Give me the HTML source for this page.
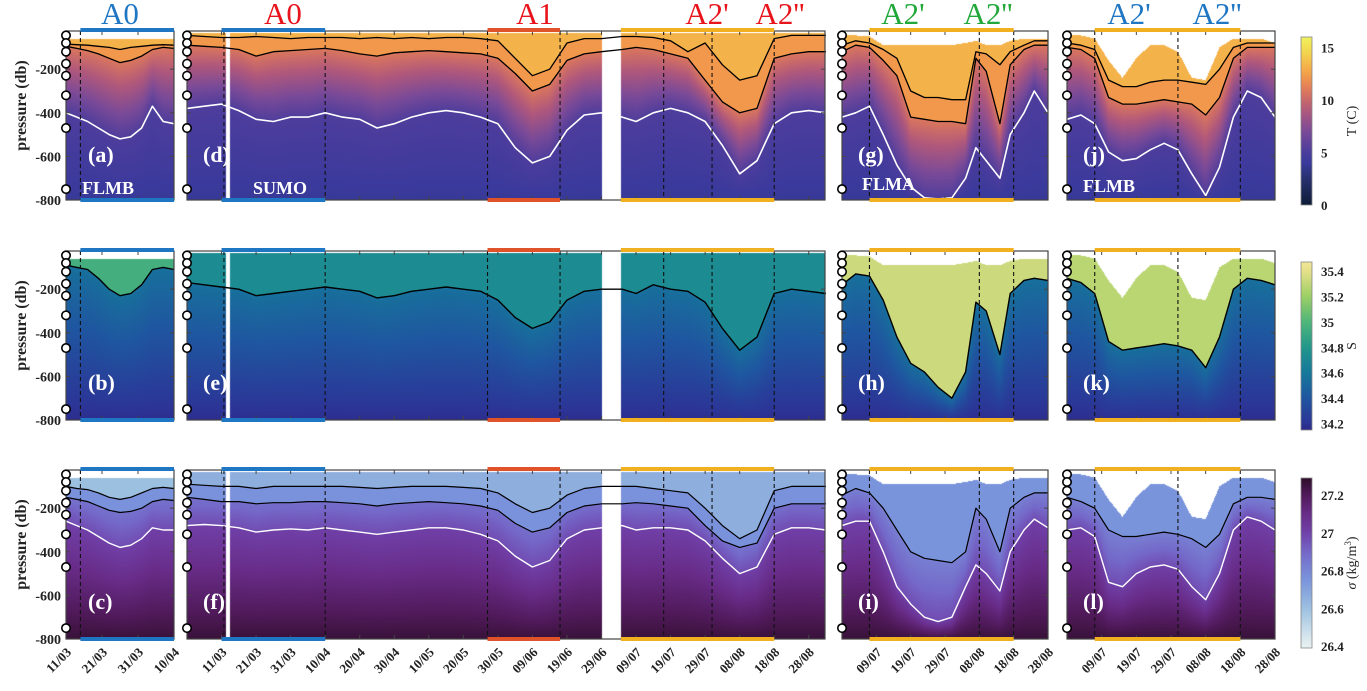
<!DOCTYPE html>
<html><head><meta charset="utf-8">
<style>
html,body{margin:0;padding:0;background:#fff;}
#wrap{position:relative;width:1367px;height:691px;overflow:hidden;font-family:"Liberation Serif",serif;}
canvas{position:absolute;}
svg{position:absolute;left:0;top:0;}
</style></head>
<body>
<div id="wrap">
<svg id="svg" width="1367" height="691"></svg>
</div>
<script>
// ---------- data (day of year; pressure in db) ----------
const ticksA = [70,80,90,100];
const tickLabelsA = ["11/03","21/03","31/03","10/04"];
const ticksD = [70,80,90,100,110,120,130,140,150,160,170,180,190,200,210,220,230,240];
const tickLabelsD = ["11/03","21/03","31/03","10/04","20/04","30/04","10/05","20/05","30/05","09/06","19/06","29/06","09/07","19/07","29/07","08/08","18/08","28/08"];
const ticksG = [190,200,210,220,230,240];
const tickLabelsG = ["09/07","19/07","29/07","08/08","18/08","28/08"];
const yTicks = [-200,-400,-600,-800];
const instrDepths = [-45,-80,-120,-175,-230,-320,-470,-750];

const daysA = [70,73,76,79,82,85,88,91,94,97,100];
const tA1 = [-85,-88,-90,-95,-100,-110,-100,-95,-90,-88,-90];
const tA2 = [-95,-105,-115,-130,-150,-170,-160,-140,-110,-100,-105];
const tAw = [-400,-420,-440,-470,-500,-520,-510,-470,-370,-440,-450];
const sA = [-90,-100,-110,-150,-200,-230,-220,-180,-110,-100,-110];
const gA1 = [-100,-110,-115,-130,-150,-160,-150,-130,-110,-105,-110];
const gA2 = [-150,-160,-170,-190,-210,-220,-215,-200,-170,-160,-165];
const gAw = [-260,-280,-300,-330,-360,-380,-370,-340,-290,-300,-300];

const daysD = [60,65,70,75,80,85,90,95,100,105,110,115,120,125,130,135,140,145,150,155,160,165,170,175,180,186,190,195,200,205,210,215,220,225,230,235,240,245];
const tD1 = [-45,-50,-55,-55,-50,-55,-60,-55,-55,-55,-60,-55,-60,-55,-60,-55,-55,-60,-70,-150,-230,-200,-80,-60,-60,-50,-50,-55,-70,-120,-80,-180,-250,-230,-60,-45,-45,-45];
const tD2 = [-90,-95,-100,-110,-140,-120,-115,-110,-105,-115,-130,-140,-125,-120,-115,-120,-125,-130,-150,-220,-300,-270,-160,-130,-120,-110,-100,-110,-130,-150,-250,-350,-400,-380,-150,-130,-120,-120];
const tDw = [-380,-370,-360,-390,-430,-440,-420,-420,-400,-420,-430,-470,-450,-420,-400,-390,-400,-420,-450,-560,-630,-600,-480,-410,-400,-420,-440,-400,-380,-400,-440,-550,-680,-620,-450,-400,-390,-400];
const sD = [-170,-180,-190,-200,-230,-220,-210,-200,-190,-200,-210,-240,-230,-210,-200,-190,-200,-210,-250,-330,-380,-350,-250,-210,-200,-200,-220,-180,-200,-210,-260,-380,-480,-420,-220,-200,-210,-220];
const gD1 = [-90,-95,-100,-100,-110,-100,-100,-100,-100,-100,-105,-110,-105,-100,-100,-100,-105,-110,-130,-180,-220,-200,-140,-110,-100,-100,-100,-110,-120,-130,-200,-280,-340,-300,-120,-100,-100,-100];
const gD2 = [-150,-160,-170,-170,-180,-175,-175,-170,-170,-175,-180,-190,-180,-175,-170,-175,-180,-190,-210,-270,-310,-290,-220,-190,-180,-180,-175,-180,-190,-200,-280,-350,-380,-360,-200,-180,-180,-180];
const gDw = [-280,-275,-280,-290,-310,-300,-295,-300,-290,-300,-310,-320,-310,-300,-290,-290,-300,-320,-350,-420,-470,-440,-340,-300,-290,-280,-300,-290,-290,-300,-350,-430,-500,-470,-320,-290,-290,-300];

const daysG = [180,184,188,192,196,200,204,208,212,216,219,222,226,229,233,236,240];
const tG1 = [-90,-70,-80,-110,-150,-300,-330,-330,-340,-340,-120,-130,-180,-120,-90,-70,-70];
const tG2 = [-120,-90,-100,-160,-230,-420,-430,-440,-440,-450,-150,-210,-450,-180,-110,-90,-90];
const tGw = [-420,-400,-370,-500,-640,-740,-790,-795,-790,-700,-560,-620,-700,-500,-400,-300,-400];
const topG = [-45,-45,-50,-90,-90,-90,-90,-90,-90,-80,-70,-90,-90,-70,-60,-60,-60];
const sG = [-180,-130,-140,-250,-420,-540,-580,-650,-700,-580,-260,-300,-500,-220,-160,-150,-160];
const gG1 = [-140,-110,-130,-200,-300,-400,-430,-440,-450,-400,-200,-250,-400,-200,-150,-130,-130];
const gGw = [-280,-260,-260,-400,-560,-640,-700,-720,-700,-560,-460,-500,-580,-400,-300,-250,-290];

const daysJ = [180,184,188,192,196,200,204,208,212,216,220,224,228,232,236,240];
const tJ1 = [-80,-90,-110,-250,-280,-280,-260,-250,-250,-260,-270,-200,-100,-80,-80,-80];
const tJ2 = [-100,-110,-150,-330,-360,-360,-350,-340,-350,-360,-410,-330,-150,-100,-100,-100];
const tJw = [-430,-410,-450,-580,-620,-610,-570,-540,-570,-680,-780,-650,-420,-300,-330,-420];
const topJ = [-40,-45,-60,-160,-240,-150,-90,-90,-120,-240,-250,-100,-60,-60,-60,-80];
const sJ = [-150,-170,-220,-440,-480,-470,-460,-450,-460,-480,-560,-420,-200,-150,-160,-180];
const gJ1 = [-150,-170,-200,-300,-330,-330,-320,-310,-320,-340,-380,-320,-180,-150,-150,-160];
const gJw = [-300,-290,-330,-540,-560,-500,-470,-460,-480,-560,-620,-500,-300,-240,-260,-300];

const tCbTicks = [0,5,10,15];
const sCbTicks = [34.2,34.4,34.6,34.8,35,35.2,35.4];
const gCbTicks = [26.4,26.6,26.8,27,27.2];

// ---------- layout ----------
const ROWS=[31,251,470], PH=169, P0=-25, P1=-800;
function yOf(row,p){return ROWS[row]+(P0-p)/(P0-P1)*PH;}
const SEC={
 a:{x0:66,x1:174,d0:70,d1:100,days:daysA,T:[tA1,tA2,tAw],S:sA,G:[gA1,gA2,gAw],top:null,topC:-62,sTop:34.95,gTop:26.6,names:["a","b","c"],ticks:ticksA,labels:tickLabelsA,dash:[74]},
 d:{x0:187,x1:825,d0:60,d1:244.7,days:daysD,T:[tD1,tD2,tDw],S:sD,G:[gD1,gD2,gDw],top:null,topC:-33,sTop:34.72,gTop:26.66,names:["d","e","f"],ticks:ticksD,labels:tickLabelsD,dash:[70.7,100,147,168,198,212,230]},
 g:{x0:842,x1:1048,d0:180,d1:240,days:daysG,T:[tG1,tG2,tGw],S:sG,G:[gG1,gG1,gGw],top:topG,sTop:35.33,gTop:26.75,names:["g","h","i"],ticks:ticksG,labels:tickLabelsG,dash:[188,220,230]},
 j:{x0:1067,x1:1275,d0:180,d1:240,days:daysJ,T:[tJ1,tJ2,tJw],S:sJ,G:[gJ1,gJ1,gJw],top:topJ,sTop:35.28,gTop:26.75,names:["j","k","l"],ticks:ticksG,labels:tickLabelsG,dash:[188,212,230]}
};
function xOf(s,day){return s.x0+(day-s.d0)/(s.d1-s.d0)*(s.x1-s.x0);}
function interp(days,arr,d){
 if(d<=days[0])return arr[0]; if(d>=days[days.length-1])return arr[arr.length-1];
 for(let i=0;i<days.length-1;i++){if(d>=days[i]&&d<=days[i+1]){const t=(d-days[i])/(days[i+1]-days[i]);return arr[i]+t*(arr[i+1]-arr[i]);}}
 return arr[0];
}
function hex(h){return [parseInt(h.substr(1,2),16),parseInt(h.substr(3,2),16),parseInt(h.substr(5,2),16)];}
const TMAP=[[0,'#0d1c38'],[2.5,'#28306e'],[4,'#3a3a9c'],[5,'#4a3c9c'],[7,'#7a4a98'],[9,'#b0587c'],[11,'#e07a5a'],[12.5,'#f5a048'],[15,'#f2e050'],[16,'#f0f060']].map(s=>[s[0],hex(s[1])]);
const SMAP=[[34.1,'#2b1f7a'],[34.2,'#2c3496'],[34.4,'#1f56a0'],[34.6,'#15789a'],[34.8,'#22978c'],[35.0,'#4fb67a'],[35.2,'#9ccf64'],[35.4,'#e6e08a'],[35.5,'#f6ec9a']].map(s=>[s[0],hex(s[1])]);
const GMAP=[[26.4,'#e8f2f2'],[26.6,'#9cc0e0'],[26.75,'#7a94dc'],[26.9,'#7468c8'],[27.0,'#7040a8'],[27.1,'#682c88'],[27.2,'#501a5a'],[27.3,'#2a0c24']].map(s=>[s[0],hex(s[1])]);
function cmap(m,v){
 if(v<=m[0][0])return m[0][1]; if(v>=m[m.length-1][0])return m[m.length-1][1];
 for(let i=0;i<m.length-1;i++){if(v>=m[i][0]&&v<=m[i+1][0]){const t=(v-m[i][0])/(m[i+1][0]-m[i][0]);return [0,1,2].map(k=>m[i][1][k]+t*(m[i+1][1][k]-m[i][1][k]));}}
}
function cssOf(m,v){const c=cmap(m,v);return 'rgb('+c.map(Math.round).join(',')+')';}
function tempVal(p,l1,l2,w){
 if(p>l1)return 13.2; if(p>l2)return 12.2;
 if(p>w)return 10.8-5.6*(l2-p)/Math.max(1,(l2-w));
 return 5.2-1.4*(w-p)/Math.max(1,(w+800));
}
function salVal(p,l){
 return 34.55-0.38*(l-p)/Math.max(1,(l+800));
}
function sigVal(p,l1,l2,w,gTop){
 if(p>l1)return gTop; if(p>l2)return 26.76;
 if(p>w)return 26.82+0.15*(l1-p)/Math.max(1,(l1-w));
 return 27.0+0.26*(w-p)/Math.max(1,(w+800));
}
const wrap=document.getElementById('wrap');
const svg=document.getElementById('svg');
const NS='http://www.w3.org/2000/svg';
function mk(tag,attrs,parent){const e=document.createElementNS(NS,tag);for(const k in attrs)e.setAttribute(k,attrs[k]);(parent||svg).appendChild(e);return e;}

// ---------- heatmaps ----------
for(const key in SEC){
 const s=SEC[key];
 const W=s.x1-s.x0;
 for(let row=0;row<3;row++){
  const cv=document.createElement('canvas');
  cv.width=W;cv.height=PH;
  cv.style.left=s.x0+'px';cv.style.top=ROWS[row]+'px';
  
  
  wrap.insertBefore(cv,svg);
  const ctx=cv.getContext('2d');const img=ctx.createImageData(W,PH);
  for(let px=0;px<W;px++){
   const day=s.d0+(px+0.5)/W*(s.d1-s.d0);
   const gap=(key==='d'&&((day>=180&&day<=185.6)||(day>=71.2&&day<=72.4)));
   const top=s.top?interp(s.days,s.top,day):s.topC;
   const a1=interp(s.days,s.T[0],day),a2=interp(s.days,s.T[1],day),aw=interp(s.days,s.T[2],day);
   const sl=interp(s.days,s.S,day);
   const g1=interp(s.days,s.G[0],day),g2=interp(s.days,s.G[1],day),gw=interp(s.days,s.G[2],day);
   for(let py=0;py<PH;py++){
    const p=P0-(py+0.5)/PH*(P0-P1);
    let c;
    if(gap||p>top)c=[255,255,255];
    else if(row===0)c=cmap(TMAP,tempVal(p,a1,a2,aw));
    else if(row===1)c=cmap(SMAP,p>sl?s.sTop:salVal(p,sl));
    else c=cmap(GMAP,sigVal(p,g1,g2,gw,s.gTop));
    const i=(py*W+px)*4;img.data[i]=c[0];img.data[i+1]=c[1];img.data[i+2]=c[2];img.data[i+3]=255;
   }
  }
  ctx.putImageData(img,0,0);
 }
}

// ---------- lines, axes ----------
function poly(s,row,arr,color,w,name){
 const pts=[];
 s.days.forEach((d,i)=>{pts.push(xOf(s,d).toFixed(1)+','+yOf(row,arr[i]).toFixed(1));});
 const e=mk('polyline',{points:pts.join(' '),fill:'none',stroke:color,'stroke-width':w,'stroke-linejoin':'round'});
 
 
}
const barCol={a:[[74,100,'#1f77c4']],d:[[70,100,'#1f77c4'],[147,168,'#e0522a'],[185.6,230,'#f0b020']],g:[[188,230,'#f0b020']],j:[[188,230,'#f0b020']]};
for(const key in SEC){
 const s=SEC[key];
 for(let row=0;row<3;row++){
  const yt=ROWS[row],yb=ROWS[row]+PH;
  if(row===0){poly(s,0,s.T[0],'#000',1.3,'isotherm-upper-'+key);poly(s,0,s.T[1],'#000',1.3,'isotherm-lower-'+key);poly(s,0,s.T[2],'#fff',1.6,'isotherm-white-'+key);}
  if(row===1){poly(s,1,s.S,'#000',1.4,'isohaline-'+key);}
  if(row===2){poly(s,2,s.G[0],'#000',1.2,'isopycnal-upper-'+key);if(s.G[1]!==s.G[0])poly(s,2,s.G[1],'#000',1.2,'isopycnal-lower-'+key);poly(s,2,s.G[2],'#fff',1.4,'isopycnal-white-'+key);}
  const box=mk('rect',{x:s.x0,y:yt,width:s.x1-s.x0,height:PH,fill:'none',stroke:'#444','stroke-width':1.2});
  
  
  s.dash.forEach(d=>{const l=mk('line',{x1:xOf(s,d),x2:xOf(s,d),y1:yt,y2:yb,stroke:'#111','stroke-width':1.1,'stroke-dasharray':'4,3'});
   
   });
  s.ticks.forEach(d=>{const x=xOf(s,d);mk('line',{x1:x,x2:x,y1:yb,y2:yb-4,stroke:'#444'});mk('line',{x1:x,x2:x,y1:yt,y2:yt+4,stroke:'#444'});});
  mk('line',{x1:s.x0,x2:s.x0,y1:yb,y2:yb-4,stroke:'#444'});
  yTicks.forEach(p=>{const y=yOf(row,p);mk('line',{x1:s.x0,x2:s.x0+4,y1:y,y2:y,stroke:'#444'});mk('line',{x1:s.x1,x2:s.x1-4,y1:y,y2:y,stroke:'#444'});});
  barCol[key].forEach(b=>{const xa=xOf(s,b[0]),xb=xOf(s,b[1]);
   const t=mk('rect',{x:xa,y:yt-3,width:xb-xa,height:4,fill:b[2]});
   
   
   const u=mk('rect',{x:xa,y:yb-2,width:xb-xa,height:4,fill:b[2]});
   
   });
  instrDepths.forEach(p=>{const c=mk('circle',{cx:s.x0,cy:yOf(row,p),r:4.2,fill:'#fff',stroke:'#000','stroke-width':1.6});
   
   });
  if(row===2){s.ticks.forEach((d,i)=>{const x=xOf(s,d)+6;const t=mk('text',{x:x,y:yb+14,'text-anchor':'end','font-size':13,'font-weight':'bold',fill:'#222',transform:'rotate(-45 '+x+' '+(yb+14)+')'});t.textContent=s.labels[i];
   
   });}
  if(key==='a'){yTicks.forEach(p=>{const t=mk('text',{x:s.x0-5,y:yOf(row,p)+5,'text-anchor':'end','font-size':14,'font-weight':'bold',fill:'#222'});t.textContent=p;
   
   });
   const cy=ROWS[row]+PH/2-10;const t=mk('text',{x:26,y:cy,'text-anchor':'middle','font-size':16,'font-weight':'bold',fill:'#222',transform:'rotate(-90 26 '+cy+')'});t.textContent='pressure (db)';
   
   }
  const pl=mk('text',{x:s.x0+(key==='a'?22:16),y:yb-(row===0?38:30),'font-size':22,'font-weight':'bold',fill:'#fff'});pl.textContent='('+s.names[row]+')';
  
  
 }
}
// mooring names
[['FLMB',82,194],['SUMO',253,194],['FLMA',862,190],['FLMB',1083,192]].forEach(m=>{const t=mk('text',{x:m[1],y:m[2],'font-size':18,'font-weight':'bold',fill:'#fff'});t.textContent=m[0];
 
 });
// event labels
[['A0',120,'#1f77c4'],['A0',283,'#e8141c'],['A1',535,'#e8141c'],["A2'",707,'#e8141c'],["A2''",780,'#e8141c'],["A2'",903,'#22a83a'],["A2''",988,'#22a83a'],["A2'",1129,'#1f77c4'],["A2''",1217,'#1f77c4']].forEach(m=>{const t=mk('text',{x:m[1],y:24,'text-anchor':'middle','font-size':31,fill:m[2]});t.textContent=m[0];
 
 });
// colorbars
function colorbar(id,map,vmin,vmax,y0,y1,ticks,title,name){
 const defs=mk('defs',{});const lg=mk('linearGradient',{id:id,x1:0,y1:1,x2:0,y2:0},defs);
 for(let i=0;i<=20;i++){const v=vmin+(vmax-vmin)*i/20;mk('stop',{offset:(i/20),'stop-color':cssOf(map,v)},lg);}
 const r=mk('rect',{x:1301,y:y0,width:11,height:y1-y0,fill:'url(#'+id+')',stroke:'#888','stroke-width':0.8});
 
 
 ticks.forEach(v=>{const y=y1-(v-vmin)/(vmax-vmin)*(y1-y0);const t=mk('text',{x:1321,y:y+5,'font-size':13,'font-weight':'bold',fill:'#222'});t.textContent=v;
  
  });
 const cy=(y0+y1)/2;const t=mk('text',{x:1356,y:cy,'text-anchor':'middle','font-size':14,fill:'#222',transform:'rotate(-90 1356 '+cy+')'});t.innerHTML=title;
 
 
}
colorbar('cbT',TMAP,0,16,37,205,tCbTicks,'T (C)','colorbar-temperature');
colorbar('cbS',SMAP,34.15,35.47,262,430,sCbTicks,'S','colorbar-salinity');
colorbar('cbG',GMAP,26.39,27.29,478,648,gCbTicks,'<tspan font-style="italic">σ</tspan> (kg/m<tspan dy="-5" font-size="9">3</tspan><tspan dy="5">)</tspan>','colorbar-density');
</script>
</body></html>
